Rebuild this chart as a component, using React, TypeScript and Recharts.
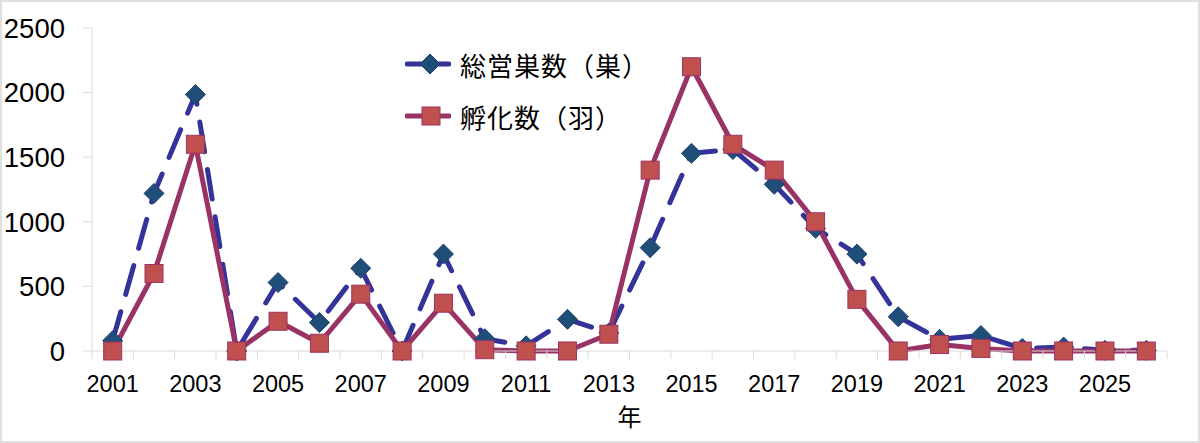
import React from 'react'
import { LineChart, Line, XAxis, YAxis, Legend } from 'recharts'

// 年ごとの値
const years = [
  2001, 2002, 2003, 2004, 2005, 2006, 2007, 2008, 2009, 2010, 2011, 2012, 2013,
  2014, 2015, 2016, 2017, 2018, 2019, 2020, 2021, 2022, 2023, 2024, 2025, 2026,
]
const nests = [
  80, 1220, 1985, 0, 530, 220, 640, 0, 750, 95, 40, 245, 140,
  800, 1530, 1560, 1290, 950, 750, 265, 90, 120, 20, 30, 5, 5,
]
const hatched = [
  0, 600, 1600, 0, 230, 60, 440, 0, 370, 10, 0, 0, 130,
  1400, 2200, 1600, 1400, 1000, 400, 0, 50, 20, 0, 0, 0, 0,
]
const yTicks = [0, 500, 1000, 1500, 2000, 2500]
const xLabels = [2001, 2003, 2005, 2007, 2009, 2011, 2013, 2015, 2017, 2019, 2021, 2023, 2025]

const nestsName = '総営巣数（巣）'
const hatchedName = '孵化数（羽）'

const data = years.map((year, i) => ({ year, nests: nests[i], hatched: hatched[i] }))

// category boundaries (Excel style tick marks between years)
const boundaries = [...years.map((y) => y - 0.5), years[years.length - 1] + 0.5]
const xTicks = [...boundaries, ...xLabels].sort((a, b) => a - b)

const FONT = "'Noto Sans CJK JP', 'Liberation Sans', sans-serif"
const NUM_FONT = "'Liberation Sans', Arial, sans-serif"
const AXIS_GREY = '#d9d9d9'
const BLUE_LINE = '#33339a'
const BLUE_FILL = '#1f4e79'
const RED_LINE = '#993366'
const RED_FILL = '#c0504d'

const XTick = (props: any) => {
  const { x, y, payload } = props
  const v = payload.value
  if (!Number.isInteger(v)) {
    return <line x1={x} x2={x} y1={y} y2={y + 8} stroke={AXIS_GREY} strokeWidth={1} />
  }
  return (
    <text x={x} y={y + 33} textAnchor="middle" dominantBaseline="central" fontSize={23.5} fill="#000" fontFamily={NUM_FONT}>
      {v}
    </text>
  )
}

const Diamond = ({ cx, cy, r = 10 }: any) => {
  if (cx == null || cy == null) return null
  return (
    <polygon
      points={`${cx},${cy - r} ${cx + r},${cy} ${cx},${cy + r} ${cx - r},${cy}`}
      fill={BLUE_FILL}
      stroke="#1f3f6f"
      strokeWidth={1}
    />
  )
}

const Square = ({ cx, cy, s = 9 }: any) => {
  if (cx == null || cy == null) return null
  return <rect x={cx - s} y={cy - s} width={s * 2} height={s * 2} fill={RED_FILL} stroke={RED_LINE} strokeWidth={1} />
}

const renderLegend = () => {
  const rows = [
    { name: nestsName, color: BLUE_LINE, marker: <Diamond cx={25} cy={26} r={10} /> },
    { name: hatchedName, color: RED_LINE, marker: <Square cx={26} cy={26} s={9} /> },
  ]
  return (
    <div style={{ fontFamily: FONT }}>
      {rows.map((row) => (
        <div key={row.name} style={{ display: 'flex', alignItems: 'center', height: 52 }}>
          <svg width={46} height={52} style={{ marginRight: 9 }}>
            <line x1={2} x2={44} y1={26} y2={26} stroke={row.color} strokeWidth={5} strokeLinecap="round" />
            {row.marker}
          </svg>
          <span style={{ fontSize: 26, letterSpacing: 1, color: '#000', whiteSpace: 'nowrap' }}>{row.name}</span>
        </div>
      ))}
    </div>
  )
}

export default function App() {
  return (
    <div style={{ position: 'absolute', left: 0, top: 0, width: 1200, height: 443, background: '#fff' }}>
      <LineChart
        width={1200}
        height={443}
        data={data}
        margin={{ top: 28, right: 33, left: 0, bottom: 0 }}
        style={{ fontFamily: FONT }}
      >
        <XAxis
          dataKey="year"
          type="number"
          domain={[2000.5, 2026.5]}
          ticks={xTicks}
          interval={0}
          height={92}
          tick={<XTick />}
          tickLine={false}
          tickSize={0}
          tickMargin={0}
          axisLine={{ stroke: AXIS_GREY, strokeWidth: 1 }}
          label={{ value: '年', position: 'insideBottom', offset: 17, fontSize: 24, fill: '#000', fontFamily: FONT }}
        />
        <YAxis
          domain={[0, 2500]}
          ticks={yTicks}
          width={92}
          tickSize={9}
          tickMargin={18}
          tick={{ fill: '#000', fontSize: 27.5, fontFamily: NUM_FONT }}
          tickLine={{ stroke: AXIS_GREY }}
          axisLine={{ stroke: AXIS_GREY, strokeWidth: 1 }}
        />
        <Legend
          layout="vertical"
          align="center"
          verticalAlign="middle"
          content={renderLegend}
          wrapperStyle={{ position: 'absolute', left: 405, top: 38, width: 'auto' }}
        />
        <Line
          dataKey="nests"
          name={nestsName}
          type="linear"
          stroke={BLUE_LINE}
          strokeWidth={5}
          strokeDasharray="30 18"
          strokeLinecap="round"
          dot={(p: any) => <Diamond key={`d-${p.index}`} cx={p.cx} cy={p.cy} r={10} />}
          activeDot={false}
          isAnimationActive={false}
        />
        <Line
          dataKey="hatched"
          name={hatchedName}
          type="linear"
          stroke={RED_LINE}
          strokeWidth={5}
          strokeLinejoin="round"
          dot={(p: any) => <Square key={`s-${p.index}`} cx={p.cx} cy={p.cy} s={9} />}
          activeDot={false}
          isAnimationActive={false}
        />
      </LineChart>
      <div
        style={{
          position: 'absolute',
          inset: 0,
          border: '2px solid #e0e0e0',
          pointerEvents: 'none',
        }}
      />
    </div>
  )
}
